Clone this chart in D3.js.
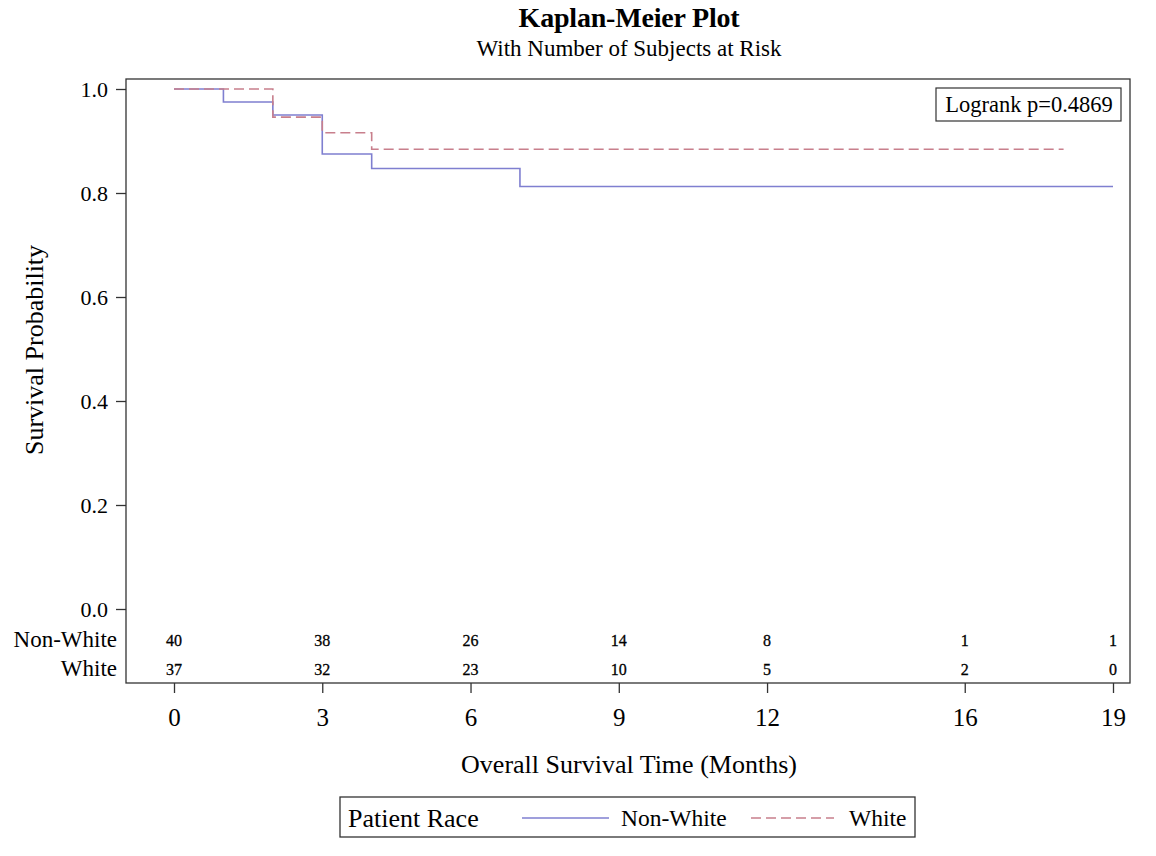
<!DOCTYPE html>
<html>
<head>
<meta charset="utf-8">
<script src="https://cdn.jsdelivr.net/npm/d3@7"></script>
<style>
  body { margin: 0; background: #fff; }
  svg { display: block; }
  text { font-family: "Liberation Serif", "Times New Roman", serif; fill: #000; }
</style>
</head>
<body>
<svg id="chart" width="1156" height="856"></svg>
<script>
// ---- Data ----
const nonWhiteTimes = [0, 1, 2, 3, 4, 7, 19];
const nonWhiteSurv  = [1.0, 0.975, 0.95, 0.875, 0.847, 0.8125, 0.8125];
const whiteTimes    = [0, 2, 3, 4, 18];
const whiteSurv     = [1.0, 0.946, 0.916, 0.884, 0.884];

const atRiskTimes   = [0, 3, 6, 9, 12, 16, 19];
const nonWhiteRisk  = [40, 38, 26, 14, 8, 1, 1];
const whiteRisk     = [37, 32, 23, 10, 5, 2, 0];

const yTicks        = [0, 0.2, 0.4, 0.6, 0.8, 1.0];
const groupNames    = ["Non-White", "White"];
const pValueText    = "Logrank p=0.4869";

// ---- Layout ----
const svg = d3.select("#chart");
const frame = { left: 126, top: 79, right: 1130, bottom: 683 };
const colNW = "#7f7fd0";
const colW  = "#c87f8c";

const x = d3.scaleLinear().domain([0, 19]).range([174, 1113]);
const y = d3.scaleLinear().domain([0, 1]).range([609, 89]);

// Title
svg.append("text").attr("x", 629).attr("y", 27).attr("text-anchor", "middle")
  .style("font-size", "28px").style("font-weight", "bold").style("letter-spacing", "-0.2px").text("Kaplan-Meier Plot");
svg.append("text").attr("x", 629).attr("y", 56).attr("text-anchor", "middle")
  .style("font-size", "23px").text("With Number of Subjects at Risk");

// Frame
svg.append("rect").attr("x", frame.left).attr("y", frame.top)
  .attr("width", frame.right - frame.left).attr("height", frame.bottom - frame.top)
  .attr("fill", "none").attr("stroke", "#333").attr("stroke-width", 1.3);

// Y axis
const yAxis = svg.append("g").attr("transform", `translate(${frame.left},0)`)
  .call(d3.axisLeft(y).tickValues(yTicks).tickFormat(d3.format(".1f")).tickSize(10).tickSizeOuter(0));
yAxis.select(".domain").remove();
yAxis.selectAll("line").attr("stroke", "#333").attr("stroke-width", 1.3);
yAxis.selectAll("text").style("font-family", "Liberation Serif, serif").style("font-size", "22px")
  .attr("fill", "#000").attr("x", -18).attr("dy", "0.34em");

// X axis
const xAxis = svg.append("g").attr("transform", `translate(0,${frame.bottom})`)
  .call(d3.axisBottom(x).tickValues(atRiskTimes).tickFormat(d3.format("d")).tickSize(10).tickSizeOuter(0));
xAxis.select(".domain").remove();
xAxis.selectAll("line").attr("stroke", "#333").attr("stroke-width", 1.3);
xAxis.selectAll("text").style("font-family", "Liberation Serif, serif").style("font-size", "25px")
  .attr("fill", "#000").attr("y", 43).attr("dy", "0");

// Axis labels
svg.append("text").attr("transform", "translate(43,350) rotate(-90)").attr("text-anchor", "middle")
  .style("font-size", "26px").text("Survival Probability");
svg.append("text").attr("x", 629).attr("y", 773).attr("text-anchor", "middle")
  .style("font-size", "26px").text("Overall Survival Time (Months)");

// Curves
const line = d3.line().x(d => x(d[0])).y(d => y(d[1])).curve(d3.curveStepAfter);
const nwData = nonWhiteTimes.map((t, i) => [t, nonWhiteSurv[i]]);
const wData  = whiteTimes.map((t, i) => [t, whiteSurv[i]]);
svg.append("path").attr("d", line(nwData)).attr("fill", "none")
  .attr("stroke", colNW).attr("stroke-width", 1.6);
svg.append("path").attr("d", line(wData)).attr("fill", "none")
  .attr("stroke", colW).attr("stroke-width", 1.6).attr("stroke-dasharray", "10,5");

// At-risk table
const rowsY = [647, 676];
[nonWhiteRisk, whiteRisk].forEach((vals, r) => {
  svg.append("text").attr("x", 117).attr("y", rowsY[r]).attr("text-anchor", "end")
    .style("font-size", "23px").text(groupNames[r]);
  svg.selectAll(null).data(vals).enter().append("text")
    .attr("x", (d, i) => x(atRiskTimes[i])).attr("y", rowsY[r] - 1)
    .attr("text-anchor", "middle").style("font-size", "16px")
    .attr("stroke", "#000").attr("stroke-width", 0.3).text(d => d);
});

// Logrank box
svg.append("rect").attr("x", 936).attr("y", 88).attr("width", 185).attr("height", 33)
  .attr("fill", "#fff").attr("stroke", "#333").attr("stroke-width", 1.2);
svg.append("text").attr("x", 1029).attr("y", 112).attr("text-anchor", "middle")
  .style("font-size", "22.5px").text(pValueText);

// Legend
svg.append("rect").attr("x", 340).attr("y", 797).attr("width", 575).attr("height", 40)
  .attr("fill", "#fff").attr("stroke", "#333").attr("stroke-width", 1.3);
svg.append("text").attr("x", 348).attr("y", 827).style("font-size", "26px").text("Patient Race");
svg.append("line").attr("x1", 522).attr("x2", 609).attr("y1", 818).attr("y2", 818)
  .attr("stroke", colNW).attr("stroke-width", 1.6);
svg.append("text").attr("x", 621).attr("y", 826).style("font-size", "23.5px").text(groupNames[0]);
svg.append("line").attr("x1", 751).attr("x2", 834).attr("y1", 818).attr("y2", 818)
  .attr("stroke", colW).attr("stroke-width", 1.6).attr("stroke-dasharray", "10,5");
svg.append("text").attr("x", 849).attr("y", 826).style("font-size", "23.5px").text(groupNames[1]);
</script>
</body>
</html>
